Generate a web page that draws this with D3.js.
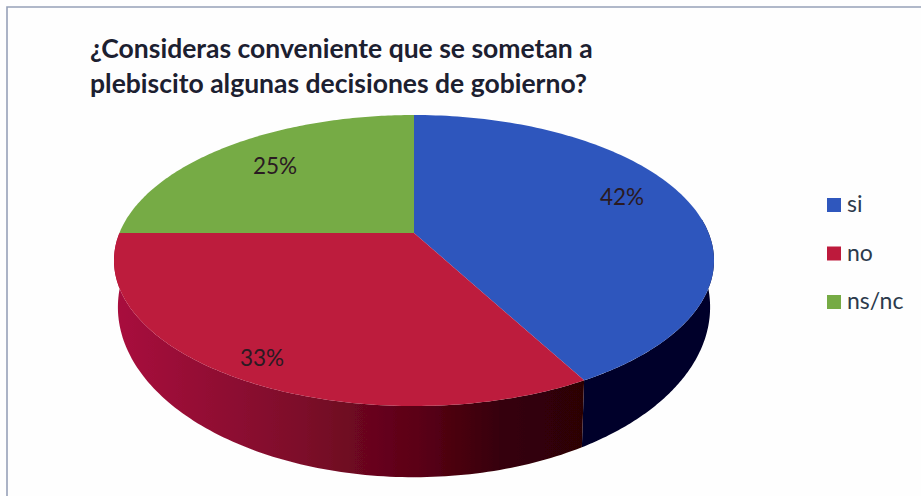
<!DOCTYPE html>
<html><head><meta charset="utf-8">
<script src="https://cdn.jsdelivr.net/npm/d3@7/dist/d3.min.js"></script>
<style>html,body{margin:0;padding:0;background:#fff;overflow:hidden}svg{display:block}text{font-family:Lato,"Open Sans",sans-serif}</style>
</head><body><div id="c"></div>
<script>
const categories = ["si", "no", "ns/nc"];
const values = [42, 33, 25];
const labels = ["42%", "33%", "25%"];
const titleLines = ["¿Consideras conveniente que se sometan a", "plebiscito algunas decisiones de gobierno?"];
const topColors = ["#2f57bd", "#bd1a3c", "#76ab45"];
const sideDark = ["#02022a", "#2c0006"];
const W = 921, H = 496;
const svg = d3.select("#c").append("svg").attr("width", W).attr("height", H);

svg.append("rect").attr("width", W).attr("height", H).attr("fill", "#fefefe");
const frame = {x: 7, y: 7, r: 921, b: 496};
svg.append("path").attr("d", `M${frame.x},${frame.b}V${frame.y}H${frame.r}`).attr("fill", "none").attr("stroke", "#97a1b8").attr("stroke-width", 1.6);

const defs = svg.append("defs");
const gr = defs.append("linearGradient").attr("id", "redSide").attr("gradientUnits", "userSpaceOnUse").attr("x1", 118).attr("x2", 584).attr("y1", 0).attr("y2", 0);
gr.selectAll("stop").data([[0, "#a8113d"], [.39, "#7d0b2a"], [.65, "#5a0215"], [.82, "#360008"], [1, sideDark[1]]]).join("stop").attr("offset", d => d[0]).attr("stop-color", d => d[1]);
const blur = defs.append("filter").attr("id", "soft").attr("x", "-5%").attr("y", "-5%").attr("width", "110%").attr("height", "110%");
blur.append("feGaussianBlur").attr("stdDeviation", 0.5);

const pie = d3.pie().sort(null)(values);

// perspective projection of the disc (top rim and lower rim)
const C = {x: 414, y: 233, A: 294.6, B: 140.3, c: 0.189};
const LOW = {s: 0.987, d: 42, B: 164};
function project(a, level) {
  const u = Math.sin(a), v = -Math.cos(a), w = 1 - C.c * v;
  return level
    ? [C.x + LOW.s * C.A * u / w, C.y + LOW.d + LOW.B * v / w]
    : [C.x + C.A * u / w, C.y + C.B * v / w];
}
const steps = (a0, a1) => d3.range(0, 121).map(i => a0 + (a1 - a0) * i / 120);
const line = d3.line();

const pieG = svg.append("g").attr("filter", "url(#soft)");
[0, 1].forEach(i => {
  const p = pie[i], end = i === 1 ? Math.min(p.endAngle, 1.5 * Math.PI + 0.02) : p.endAngle;
  const start = i === 0 ? Math.PI / 2 - 0.1 : p.startAngle;
  const s = steps(start, end);
  const pts = s.map(a => project(a, 0)).concat(s.slice().reverse().map(a => project(a, 1)));
  pieG.append("path").attr("d", line(pts) + "Z").attr("fill", i === 1 ? "url(#redSide)" : sideDark[0]);
});
pie.forEach((p, i) => {
  const pts = [[C.x, C.y]].concat(steps(p.startAngle, p.endAngle).map(a => project(a, 0)));
  pieG.append("path").attr("d", line(pts) + "Z").attr("fill", topColors[i]);
});

const labelPos = [[622, 197], [262, 358], [275, 166]];
svg.selectAll("text.lab").data(labels).join("text").attr("class", "lab")
  .attr("x", (d, i) => labelPos[i][0]).attr("y", (d, i) => labelPos[i][1] + 8)
  .attr("text-anchor", "middle").attr("font-size", 22.5).attr("fill", "#2a1a22").text(d => d);

svg.selectAll("text.t").data(titleLines).join("text").attr("class", "t")
  .attr("x", 90).attr("y", (d, i) => 58 + i * 35)
  .attr("font-size", 26.5).attr("font-weight", 700).attr("fill", "#1c2030").text(d => d);

const ly = d3.scalePoint().domain(categories).range([205, 302]);
const lg = svg.selectAll("g.l").data(categories).join("g").attr("class", "l").attr("transform", d => `translate(827,${ly(d)})`);
lg.append("rect").attr("x", 0).attr("y", -7).attr("width", 14).attr("height", 14).attr("fill", (d, i) => topColors[i]);
lg.append("text").attr("x", 20).attr("y", 7).attr("font-size", 23).attr("fill", "#2c3a4c").text(d => d);
</script></body></html>
